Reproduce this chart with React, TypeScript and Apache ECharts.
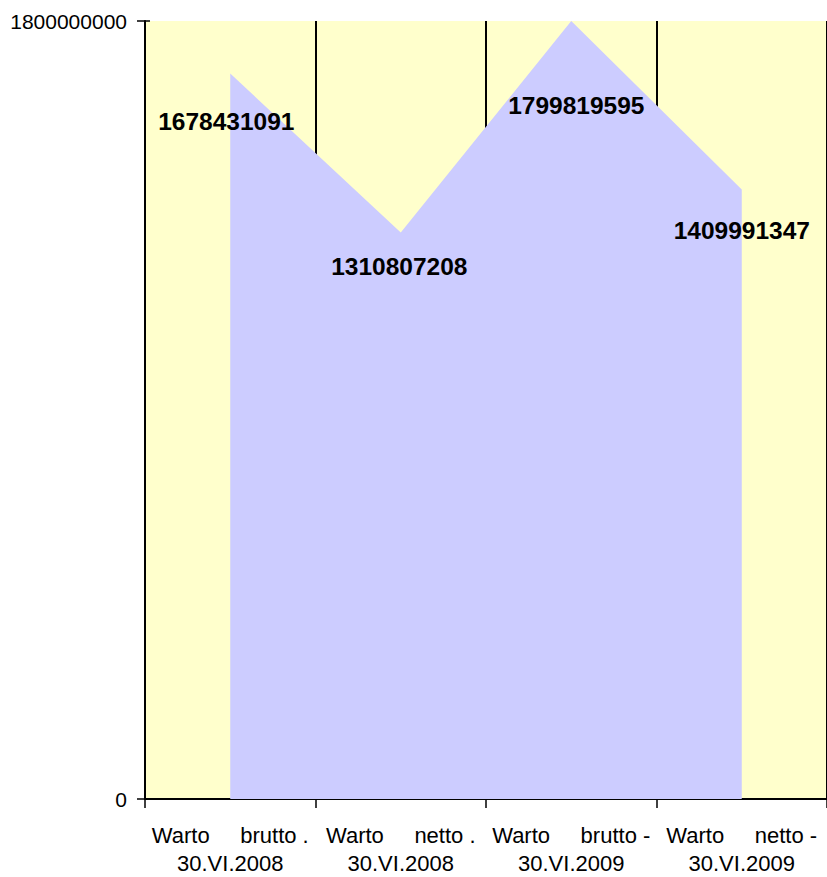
import React, { useEffect, useRef } from "react";
import * as echarts from "echarts";

const NB = "\u00A0";
const categories = [
  `Warto${NB.repeat(4)} brutto .\n30.VI.2008`,
  `Warto${NB.repeat(4)} netto .\n30.VI.2008`,
  `Warto${NB.repeat(4)} brutto -\n30.VI.2009`,
  `Warto${NB.repeat(4)} netto -\n30.VI.2009`,
];
const values = [1678431091, 1310807208, 1799819595, 1409991347];
const yMin = 0;
const yMax = 1800000000;

// label placement (style only)
const labelOffsets: [number, number][] = [
  [-4, 48],
  [-1.5, 34],
  [5, 84],
  [0, 41],
];

const FONT = "'Liberation Sans', Arial, sans-serif";

export default function App() {
  const ref = useRef<HTMLDivElement>(null);
  useEffect(() => {
    if (!ref.current) return;
    const chart = echarts.init(ref.current, undefined, { renderer: "svg" });
    chart.setOption({
      animation: false,
      backgroundColor: "#ffffff",
      grid: {
        left: 145,
        top: 21,
        width: 684,
        height: 782,
        show: true,
        backgroundColor: "#FFFFCC",
        borderWidth: 0,
        containLabel: false,
      },
      xAxis: [
        {
          type: "category",
          data: categories,
          boundaryGap: true,
          position: "bottom",
          axisLine: { show: true, lineStyle: { color: "#000", width: 2 } },
          axisTick: { show: true, inside: false, length: 9, alignWithLabel: false, lineStyle: { color: "#000", width: 1.5 } },
          axisLabel: {
            show: true,
            margin: 22,
            color: "#000",
            fontSize: 22,
            fontFamily: FONT,
            lineHeight: 28,
            align: "center",
            interval: 0,
          },
          splitLine: { show: true, interval: 0, lineStyle: { color: "#000", width: 2 } },
        },
        {
          type: "category",
          data: categories,
          boundaryGap: true,
          position: "bottom",
          axisLine: { show: false },
          axisTick: { show: true, inside: true, length: 6, lineStyle: { color: "#000", width: 1.5 } },
          axisLabel: { show: false },
          splitLine: { show: false },
        },
      ],
      yAxis: [
        {
          type: "value",
          min: yMin,
          max: yMax,
          interval: yMax,
          position: "left",
          axisLine: { show: true, lineStyle: { color: "#000", width: 2 } },
          axisTick: { show: true, inside: false, length: 8, lineStyle: { color: "#000", width: 1.5 } },
          axisLabel: {
            show: true,
            margin: 18,
            color: "#000",
            fontSize: 21,
            fontFamily: FONT,
            formatter: (v: number) => String(v),
          },
          splitLine: { show: false },
        },
        {
          type: "value",
          min: yMin,
          max: yMax,
          interval: yMax,
          position: "left",
          axisLine: { show: false },
          axisTick: { show: true, inside: true, length: 5, lineStyle: { color: "#000", width: 1.5 } },
          axisLabel: { show: false },
          splitLine: { show: false },
        },
      ],
      series: [
        {
          type: "line",
          xAxisIndex: 0,
          yAxisIndex: 0,
          data: values.map((v, i) => ({
            value: v,
            label: { offset: labelOffsets[i] },
          })),
          symbol: "circle",
          symbolSize: 2,
          showSymbol: true,
          itemStyle: { color: "rgba(0,0,0,0)" },
          lineStyle: { width: 0, color: "rgba(0,0,0,0)" },
          areaStyle: { color: "#CCCCFF", opacity: 1 },
          label: {
            show: true,
            position: "inside",
            color: "#000",
            fontSize: 24.5,
            fontWeight: "bold",
            fontFamily: FONT,
            formatter: (p: any) => String(p.value),
          },
          emphasis: { disabled: true },
        },
      ],
    });
    return () => chart.dispose();
  }, []);
  return (
    <div
      ref={ref}
      style={{ position: "absolute", left: 0, top: 0, width: 827, height: 877 }}
    />
  );
}
